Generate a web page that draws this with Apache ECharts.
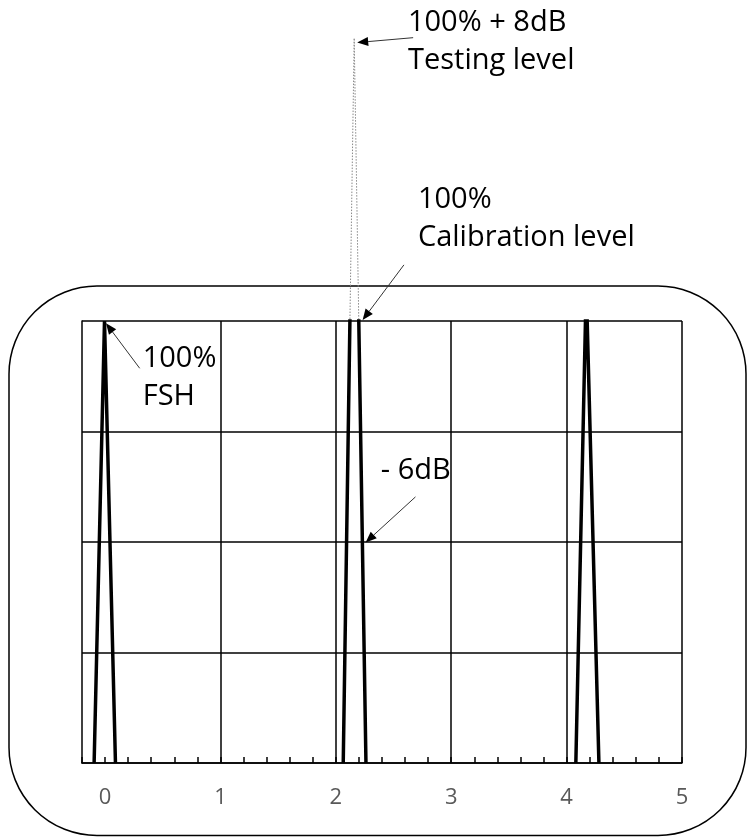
<!DOCTYPE html>
<html><head><meta charset="utf-8">
<script src="https://cdn.jsdelivr.net/npm/echarts@6/dist/echarts.min.js"></script>
<style>html,body{margin:0;padding:0;background:#fff}#c{width:747px;height:837px}</style>
</head><body><div id="c"></div>
<script>
// ---- data ----
const xTickLabels = [0, 1, 2, 3, 4, 5];
const verticalGridX = [1, 2, 3, 4, 5];
const peakFSH = [[-0.095, 0], [-0.005, 100], [0.09, 0]];
const peakTest = [[2.064, 0], [2.159, 164], [2.261, 0]];
const peakThird = [[4.08, 0], [4.17, 108], [4.28, 0]];
// annotation texts: [x, baselineValue] of first line, lines
const labelFSH = { at: [0.326, 89], lines: ['100%', 'FSH'] };
const labelTest = { at: [2.625, 165.1], lines: ['100% + 8dB', 'Testing level'] };
const labelCal = { at: [2.711, 125.1], lines: ['100%', 'Calibration level'] };
const label6dB = { at: [2.39, 63.8], lines: ['- 6dB'] };
// arrows: tail -> tip (data coords)
const arrowFSH = { tail: [0.30, 89.3], tip: [0.008, 99.5] };
const arrowTest = { tail: [2.67, 164.1], tip: [2.185, 163] };
const arrowCal = { tail: [2.59, 112.7], tip: [2.232, 100.2] };
const arrow6dB = { tail: [2.69, 60.2], tip: [2.258, 49.9] };

const FONT = '"Open Sans", "Noto Sans", sans-serif';
const FS = 29;
const LINE_GAP = 38;

const chart = echarts.init(document.getElementById('c'), null, { renderer: 'canvas' });
const solid = { color: '#000', width: 3.5 };

chart.setOption({
  animation: false,
  grid: { left: 82, right: 65, top: 321, bottom: 74, containLabel: false },
  xAxis: {
    type: 'value', min: -0.2, max: 5, interval: 0.2,
    axisLine: { show: true, onZero: false, lineStyle: { color: '#000', width: 1.5 } },
    axisTick: { show: true, inside: true, length: 6, lineStyle: { color: '#000', width: 1.5 } },
    splitLine: { show: false },
    axisLabel: {
      margin: 24, color: '#595959', fontSize: 22, fontFamily: FONT,
      formatter: function (v) {
        const r = Math.round(v);
        return (Math.abs(v - r) < 1e-6 && xTickLabels.indexOf(r) >= 0) ? String(r) : '';
      }
    }
  },
  yAxis: {
    type: 'value', min: 0, max: 100, interval: 25,
    axisLine: { show: true, onZero: false, lineStyle: { color: '#000', width: 1.5 } },
    axisTick: { show: false }, axisLabel: { show: false },
    splitLine: { show: true, lineStyle: { color: '#000', width: 1.5 } }
  },
  series: [
    {
      type: 'line', data: peakTest, clip: false, symbol: 'none', z: 1, silent: true,
      lineStyle: { color: '#888', width: 1, type: [1.5, 1.5] },
      markLine: {
        silent: true, symbol: 'none', label: { show: false },
        lineStyle: { color: '#000', width: 1.5, type: 'solid' },
        data: verticalGridX.map(v => ({ xAxis: v }))
      }
    },
    { type: 'line', data: peakFSH, symbol: 'none', clip: true, z: 3, lineStyle: solid },
    { type: 'line', data: peakTest, symbol: 'none', clip: true, z: 3, lineStyle: solid },
    { type: 'line', data: peakThird, symbol: 'none', clip: true, z: 3, lineStyle: solid }
  ]
});

function px(p) { return chart.convertToPixel({ gridIndex: 0 }, p); }

const graphics = [{
  type: 'rect', silent: true,
  shape: { x: 9, y: 286, width: 737, height: 549.5, r: 88 },
  style: { fill: 'none', stroke: '#000', lineWidth: 1.5 }, z: 0
}];

[labelFSH, labelTest, labelCal, label6dB].forEach(lb => {
  const p = px(lb.at);
  lb.lines.forEach((t, i) => {
    graphics.push({
      type: 'text', silent: true, z: 10,
      x: p[0], y: p[1] + i * LINE_GAP - FS * 0.36,
      style: { text: t, fill: '#000', font: FS + 'px ' + FONT, textAlign: 'left', textVerticalAlign: 'middle' }
    });
  });
});

[arrowFSH, arrowTest, arrowCal, arrow6dB].forEach(a => {
  const t = px(a.tail), h = px(a.tip);
  const dx = h[0] - t[0], dy = h[1] - t[1];
  const L = Math.sqrt(dx * dx + dy * dy);
  const ux = dx / L, uy = dy / L;
  const hl = 11, hw = 4.5;
  const bx = h[0] - ux * hl, by = h[1] - uy * hl;
  graphics.push({
    type: 'line', silent: true, z: 10,
    shape: { x1: t[0], y1: t[1], x2: bx, y2: by },
    style: { stroke: '#333', lineWidth: 1 }
  });
  graphics.push({
    type: 'polygon', silent: true, z: 10,
    shape: { points: [[h[0], h[1]], [bx - uy * hw, by + ux * hw], [bx + uy * hw, by - ux * hw]] },
    style: { fill: '#000' }
  });
});

chart.setOption({ graphic: graphics });
</script>
</body></html>
